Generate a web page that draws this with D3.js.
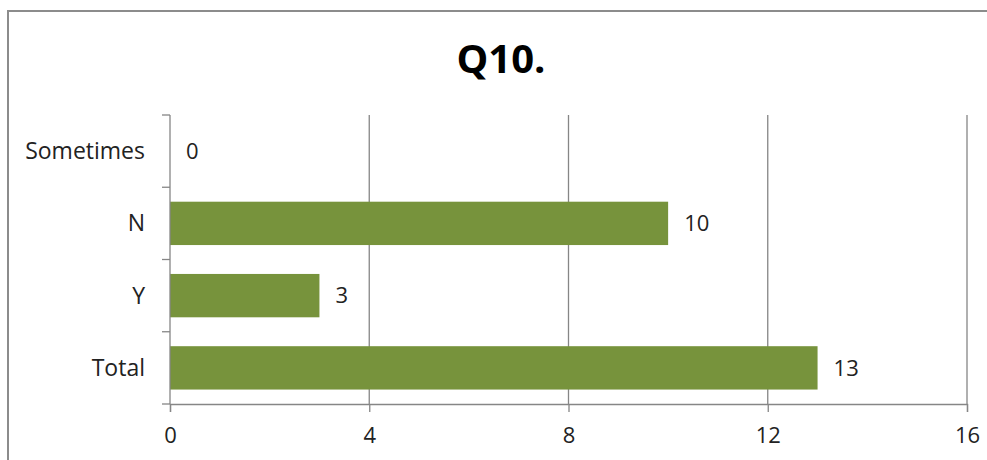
<!DOCTYPE html>
<html>
<head>
<meta charset="utf-8">
<script src="https://cdn.jsdelivr.net/npm/d3@7"></script>
<style>
  body { margin: 0; background: #fff; }
  svg { display: block; }
</style>
</head>
<body>
<svg id="chart" width="987" height="460"></svg>
<script>
// data, top to bottom
var categories = ['Sometimes', 'N', 'Y', 'Total'];
var values = [0, 10, 3, 13];
var xTicks = [0, 4, 8, 12, 16];

let svg = d3.select('#chart');

let margin = { top: 115, right: 20, bottom: 56, left: 170 };
let plotWidth = 967 - margin.left;
let plotHeight = 404 - margin.top;
let labelFont = 'Open Sans, sans-serif';

// outer frame
svg.append('rect')
  .attr('x', 8).attr('y', 11)
  .attr('width', 1000).attr('height', 480)
  .attr('fill', 'none')
  .attr('stroke', '#8c8c8c')
  .attr('stroke-width', 2);

// Title
svg.append('text')
  .text('Q10.')
  .attr('x', 501)
  .attr('y', 73)
  .attr('text-anchor', 'middle')
  .style('font-family', labelFont)
  .style('font-weight', 'bold')
  .style('font-size', '40px')
  .style('fill', '#000');

let xScale = d3.scaleLinear()
  .domain([0, 16])
  .range([0, plotWidth]);

let yScale = d3.scaleBand()
  .domain(categories)
  .range([0, plotHeight])
  .paddingInner(0.4)
  .paddingOuter(0.2);

let plot = svg.append('g')
  .attr('transform', 'translate(' + margin.left + ',' + margin.top + ')');

// vertical gridlines
plot.selectAll('line.grid')
  .data(xTicks.slice(1))
  .enter().append('line')
  .attr('class', 'grid')
  .attr('x1', d => xScale(d)).attr('x2', d => xScale(d))
  .attr('y1', 0).attr('y2', plotHeight)
  .attr('stroke', '#868686')
  .attr('stroke-width', 1.3);

// bars
plot.selectAll('rect.bar')
  .data(values)
  .enter().append('rect')
  .attr('class', 'bar')
  .attr('x', 0)
  .attr('y', (d, i) => yScale(categories[i]))
  .attr('width', d => xScale(d))
  .attr('height', yScale.bandwidth())
  .attr('fill', '#77933c');

// value labels
plot.selectAll('text.val')
  .data(values)
  .enter().append('text')
  .attr('class', 'val')
  .text(d => d)
  .attr('x', d => xScale(d) + 16)
  .attr('y', (d, i) => yScale(categories[i]) + yScale.bandwidth() / 2)
  .attr('dy', '0.35em')
  .style('font-family', labelFont)
  .style('font-size', '22px')
  .style('fill', '#222');

// y axis: ticks at band boundaries
let bounds = d3.range(categories.length + 1).map(i => i * plotHeight / categories.length);
let yAxis = plot.append('g');
yAxis.append('line')
  .attr('x1', 0).attr('x2', 0)
  .attr('y1', 0).attr('y2', plotHeight)
  .attr('stroke', '#868686').attr('stroke-width', 1.3);
yAxis.selectAll('line.tick')
  .data(bounds)
  .enter().append('line')
  .attr('class', 'tick')
  .attr('x1', -8).attr('x2', 0)
  .attr('y1', d => d).attr('y2', d => d)
  .attr('stroke', '#868686').attr('stroke-width', 1.3);
yAxis.selectAll('text')
  .data(categories)
  .enter().append('text')
  .text(d => d)
  .attr('x', -25)
  .attr('y', d => yScale(d) + yScale.bandwidth() / 2)
  .attr('dy', '0.35em')
  .attr('text-anchor', 'end')
  .style('font-family', labelFont)
  .style('font-size', '23px')
  .style('fill', '#222');

// x axis
let xAxis = d3.axisBottom(xScale).tickValues(xTicks).tickSize(8).tickPadding(15);
let xGroup = plot.append('g')
  .attr('transform', 'translate(0,' + plotHeight + ')')
  .call(xAxis);
xGroup.select('.domain').attr('stroke', '#868686').attr('stroke-width', 1.3);
xGroup.selectAll('.tick line').attr('stroke', '#868686').attr('stroke-width', 1.3);
xGroup.selectAll('.tick text')
  .style('font-family', labelFont)
  .style('font-size', '22px')
  .style('fill', '#222');
</script>
</body>
</html>
